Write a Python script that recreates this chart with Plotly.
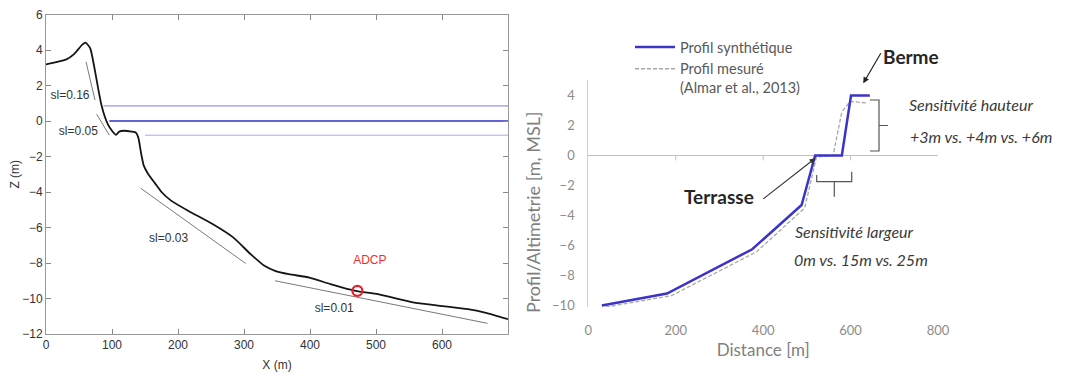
import plotly.graph_objects as go

W, H = 1077, 376

# ---------------- data: left panel (measured beach profile) ----------------
X_PROF = [0, 31, 42, 55, 60, 67, 74, 79, 84, 89, 94, 100, 106, 111, 118, 130, 136, 140,
          144, 148, 155, 165, 175, 190, 216, 253, 284, 310, 331, 347, 368, 399, 431,
          469, 503, 556, 597, 639, 665, 700]
Z_PROF = [3.19, 3.47, 3.75, 4.3, 4.41, 4.1, 2.87, 1.84, 0.9, 0.25, -0.2, -0.55, -0.78,
          -0.6, -0.55, -0.6, -0.65, -0.95, -1.8, -2.5, -3.0, -3.5, -4.0, -4.5, -5.07,
          -5.82, -6.57, -7.5, -8.16, -8.44, -8.63, -8.82, -9.19, -9.57, -9.76, -10.22,
          -10.41, -10.6, -10.79, -11.16]

SLOPE_LABELS = ["sl=0.16", "sl=0.05", "sl=0.03", "sl=0.01"]
SLOPE_X = [[60.6, 74.2], [76.8, 95.9], [143.5, 302.6], [347, 669]]
SLOPE_Z = [[3.34, 1.18], [0.38, -0.79], [-3.79, -8.03], [-9.0, -11.4]]
SLOPE_LABEL_X = [36.4, 49, 185.7, 436.7]
SLOPE_LABEL_Z = [1.41, -0.6, -6.66, -10.6]

WATER_LEVELS = [0.85, 0.0, -0.8]
WATER_START = [87, 96, 150]
WATER_END = 700

ADCP_X, ADCP_Z = [471.8], [-9.57]
ADCP_LABEL_X, ADCP_LABEL_Z = [490.6], [-7.88]

X1_TICKS = [0, 100, 200, 300, 400, 500, 600]
Y1_TICKS = [-12, -10, -8, -6, -4, -2, 0, 2, 4, 6]

# ---------------- data: right panel (synthetic vs measured) ----------------
SYN_X = [31, 180, 375, 488, 519, 580, 601, 644]
SYN_Z = [-10.0, -9.2, -6.25, -3.3, 0.0, 0.0, 4.0, 4.0]
MES_X = [40, 190, 385, 495, 522, 560, 580, 599, 637]
MES_Z = [-10.1, -9.35, -6.42, -3.5, -0.1, 0.0, 2.9, 3.6, 3.5]

X2_TICKS = [0, 200, 400, 600, 800]
Y2_TICKS = [-10, -8, -6, -4, -2, 0, 2, 4]
ZERO_TICKS = [200, 400, 600]


def px(x):
    return x / W


def py(y):
    return 1 - y / H


fig = go.Figure()

# ---- left panel traces
for lvl, x0, col, wd in zip(WATER_LEVELS, WATER_START,
                            ["#7b7be0", "#3030c8", "#a9a9ee"], [1, 1.5, 1]):
    fig.add_trace(go.Scatter(x=[x0, WATER_END], y=[lvl, lvl], mode="lines",
                             line=dict(color=col, width=wd), showlegend=False,
                             hoverinfo="skip", xaxis="x", yaxis="y"))
for sx, sz in zip(SLOPE_X, SLOPE_Z):
    fig.add_trace(go.Scatter(x=sx, y=sz, mode="lines", line=dict(color="#7a7a7a", width=1),
                             showlegend=False, xaxis="x", yaxis="y"))
fig.add_trace(go.Scatter(x=X_PROF, y=Z_PROF, mode="lines",
                         line=dict(color="#151515", width=1.8, shape="spline", smoothing=0.5),
                         showlegend=False, xaxis="x", yaxis="y"))
fig.add_trace(go.Scatter(x=SLOPE_LABEL_X, y=SLOPE_LABEL_Z, mode="text", text=SLOPE_LABELS,
                         textfont=dict(family="Liberation Sans, Arial", size=12, color="#333"),
                         showlegend=False, xaxis="x", yaxis="y"))
fig.add_trace(go.Scatter(x=ADCP_X, y=ADCP_Z, mode="markers",
                         marker=dict(symbol="circle-open", size=10, color="#e8202a",
                                     line=dict(width=2.2, color="#e8202a")),
                         showlegend=False, xaxis="x", yaxis="y"))
fig.add_trace(go.Scatter(x=ADCP_LABEL_X, y=ADCP_LABEL_Z, mode="text", text=["ADCP"],
                         textfont=dict(family="Liberation Sans, Arial", size=12, color="#f03030"),
                         showlegend=False, xaxis="x", yaxis="y"))

# ---- right panel traces
fig.add_trace(go.Scatter(x=MES_X, y=MES_Z, mode="lines", name="Profil mesuré<br>(Almar et al., 2013)",
                         line=dict(color="#a8a8a8", width=1.3, dash="4px,2px"),
                         legendrank=2, xaxis="x2", yaxis="y2"))
fig.add_trace(go.Scatter(x=SYN_X, y=SYN_Z, mode="lines", name="Profil synthétique",
                         line=dict(color="#3b34c8", width=2.5),
                         legendrank=1, xaxis="x2", yaxis="y2"))

left_font = dict(family="Liberation Sans, Arial", size=12, color="#333")
right_tick_font = dict(family="Lato", size=13, color="#8c8c8c")

fig.update_layout(
    template="none",
    width=W, height=H, autosize=False,
    margin=dict(l=0, r=0, t=0, b=0, pad=0, autoexpand=False),
    paper_bgcolor="white", plot_bgcolor="white",
    xaxis=dict(domain=[px(46), px(508)], range=[0, 700], tickvals=X1_TICKS,
               ticks="inside", ticklen=5, tickcolor="#888", showline=True,
               linecolor="#999", linewidth=1, mirror="ticks", showgrid=False,
               zeroline=False, tickfont=left_font, anchor="y", automargin=False,
               title=dict(text="X (m)", font=left_font, standoff=9)),
    yaxis=dict(domain=[py(334), py(14.5)], range=[-12, 6], tickvals=Y1_TICKS,
               ticks="inside", ticklen=5, tickcolor="#888", showline=True,
               linecolor="#999", linewidth=1, mirror="ticks", showgrid=False,
               zeroline=False, tickfont=left_font, anchor="x", automargin=False,
               title=dict(text="Z (m)", font=left_font, standoff=0)),
    xaxis2=dict(domain=[px(588.3), px(938)], range=[0, 800], tickvals=X2_TICKS,
                ticks="", showline=False, showgrid=False, zeroline=False,
                tickfont=right_tick_font, anchor="y2", ticklabelstandoff=14,
                automargin=False,
                title=dict(text="Distance [m]", font=dict(family="Lato", size=17, color="#7f7f7f"),
                           standoff=7)),
    yaxis2=dict(domain=[py(307), py(80)], range=[-10.1, 5.03], tickvals=Y2_TICKS,
                ticks="", showline=True, linecolor="#d0d0d0", linewidth=1,
                showgrid=False, zeroline=True, zerolinecolor="#c0c0c0", zerolinewidth=1,
                tickfont=right_tick_font, anchor="x2", ticklabelstandoff=10,
                automargin=False),
    legend=dict(x=px(630), y=py(31), xanchor="left", yanchor="top",
                font=dict(family="Lato", size=14.5, color="#595959"),
                bgcolor="rgba(0,0,0,0)", itemwidth=40, tracegroupgap=0, valign="top"),
    showlegend=True,
)

# ticks on the zero line of the right panel
for t in ZERO_TICKS:
    fig.add_shape(type="line", xref="x2", yref="y2", x0=t, x1=t, y0=0, y1=-0.33,
                  line=dict(color="#c0c0c0", width=1))


def ppath(points_list):
    s = ""
    for pts in points_list:
        s += "M" + " L".join(f"{px(a):.5f},{py(b):.5f}" for a, b in pts) + " "
    return s.strip()


# sensitivity brackets
fig.add_shape(type="path", xref="paper", yref="paper",
              path=ppath([[(870, 100), (879, 100), (879, 151), (870, 151)],
                          [(879, 125.5), (888, 125.5)]]),
              line=dict(color="#555", width=1.2))
fig.add_shape(type="path", xref="paper", yref="paper",
              path=ppath([[(816.7, 175), (816.7, 181.7), (851.7, 181.7), (851.7, 171.7)],
                          [(834.3, 181.7), (834.3, 196.7)]]),
              line=dict(color="#555", width=1.2))

ann_font_b = dict(family="Lato", size=19, color="#262626")
ann_font_i = dict(family="Lato", size=16, color="#3a3a3a")


def txt(text, x, y, font, xanchor="center", angle=0):
    return dict(text=text, x=px(x), y=py(y), xref="paper", yref="paper",
                xanchor=xanchor, yanchor="middle", textangle=angle,
                showarrow=False, font=font)


annotations = [
    txt("Profil/Altimetrie [m, MSL]", 533, 213,
        dict(family="Lato", size=18, color="#7f7f7f"), angle=-90),
    txt("<b>Berme</b>", 911, 56.7, ann_font_b),
    dict(text="", x=629, y=4.81, xref="x2", yref="y2", ax=18.4, ay=-31.6,
         showarrow=True, arrowhead=2, arrowsize=1, arrowwidth=1.2, arrowcolor="#222"),
    txt("<b>Terrasse</b>", 719, 196.7, ann_font_b),
    dict(text="", x=518.8, y=-0.19, xref="x2", yref="y2", ax=-53.3, ay=41.7,
         showarrow=True, arrowhead=2, arrowsize=1, arrowwidth=1.1, arrowcolor="#333"),
    txt("<i>Sensitivité hauteur</i>", 907, 104, ann_font_i, xanchor="left"),
    txt("<i>+3m vs. +4m vs. +6m</i>", 908, 136, ann_font_i, xanchor="left"),
    txt("<i>Sensitivité largeur</i>", 793, 231, ann_font_i, xanchor="left"),
    txt("<i>0m vs. 15m vs. 25m</i>", 792, 259, ann_font_i, xanchor="left"),
]
fig.update_layout(annotations=annotations)

fig.write_html("out.html")
